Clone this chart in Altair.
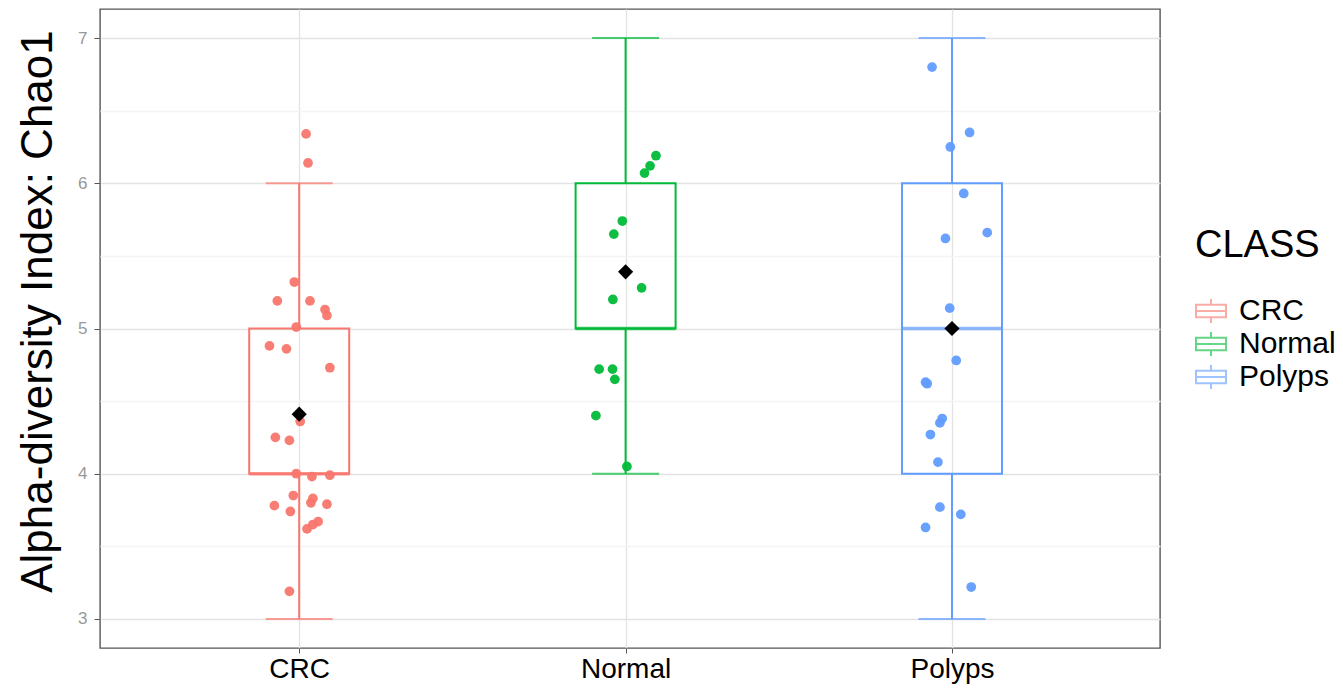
import altair as alt
import pandas as pd

classes = ["CRC", "Normal", "Polyps"]
colors = ["#F8766D", "#00BA38", "#619CFF"]

crc_vals = [6.34, 6.14, 5.32, 5.19, 5.19, 5.13, 5.09, 5.01, 4.88, 4.86, 4.73, 4.36, 4.25, 4.23,
            4.00, 3.99, 3.98, 3.85, 3.83, 3.80, 3.79, 3.78, 3.74, 3.67, 3.65, 3.62, 3.19]
crc_jit = [0.021, 0.027, -0.015, -0.067, 0.033, 0.079, 0.085, -0.009, -0.091, -0.039, 0.094, 0.003, -0.073, -0.030,
           -0.009, 0.094, 0.039, -0.018, 0.042, 0.036, 0.085, -0.076, -0.027, 0.058, 0.042, 0.024, -0.030]

normal_vals = [6.19, 6.12, 6.07, 5.74, 5.65, 5.28, 5.20, 4.72, 4.72, 4.65, 4.40, 4.05]
normal_jit = [0.093, 0.075, 0.058, -0.010, -0.036, 0.049, -0.039, -0.081, -0.040, -0.033, -0.091, 0.004]

polyps_vals = [6.80, 6.35, 6.25, 5.93, 5.66, 5.62, 5.14, 4.78, 4.63, 4.62, 4.38, 4.35, 4.27, 4.08,
               3.77, 3.72, 3.63, 3.22]
polyps_jit = [-0.061, 0.054, -0.005, 0.036, 0.108, -0.020, -0.007, 0.013, -0.081, -0.076, -0.030, -0.037, -0.066, -0.043,
              -0.037, 0.027, -0.081, 0.059]

box_min = [3, 4, 3]
box_q1 = [4, 5, 4]
box_med = [4, 5, 5]
box_q3 = [5, 6, 6]
box_max = [6, 7, 7]
means = [4.41, 5.39, 5.00]

y_ticks = [3, 3.5, 4, 4.5, 5, 5.5, 6, 6.5, 7]

rows = []
for i, (c, vals, jit) in enumerate(zip(classes, [crc_vals, normal_vals, polyps_vals],
                                       [crc_jit, normal_jit, polyps_jit])):
    for v, j in zip(vals, jit):
        rows.append({"CLASS": c, "x": i + 1 + j, "y": v})
pts = pd.DataFrame(rows)

stats = pd.DataFrame({
    "CLASS": classes,
    "x": [1, 2, 3],
    "min": box_min, "q1": box_q1, "med": box_med, "q3": box_q3, "max": box_max,
    "mean": means,
})

FONT = "Liberation Sans"
label_js = "[" + ",".join("'" + c + "'" for c in [""] + classes) + "][datum.value]"

xscale = alt.Scale(domain=[0.405, 3.622], nice=False, zero=False)
yscale = alt.Scale(domain=[2.8, 7.2], nice=False, zero=False)

xaxis = alt.Axis(values=[1, 2, 3], labelExpr=label_js, title=None,
                 grid=True, gridColor="#e3e3e3", gridWidth=1.3,
                 domain=False, ticks=True, tickSize=5, tickColor="#555",
                 labelFont=FONT, labelFontSize=28, labelColor="#000", labelPadding=2)
yaxis = alt.Axis(values=y_ticks, title="Alpha-diversity Index: Chao1",
                 labelExpr="datum.value % 1 === 0 ? '' + datum.value : ''",
                 grid=True,
                 gridColor={"condition": {"test": "datum.value % 1 !== 0", "value": "#f4f4f4"}, "value": "#e3e3e3"},
                 gridWidth=1.3,
                 domain=False, tickSize=6, tickColor="#555",
                 tickOpacity={"condition": {"test": "datum.value % 1 !== 0", "value": 0}, "value": 1},
                 labelFont=FONT, labelFontSize=17, labelColor="#999", labelPadding=7,
                 titleFont=FONT, titleFontSize=44, titleFontWeight="normal", titleColor="#000",
                 titlePadding=17, titleY=302)

legend_path = "M-1,-0.42H1V0.42H-1Z M-1,0H1 M0,-0.8V-0.42 M0,0.42V0.8"

color_nolegend = alt.Color("CLASS:N", scale=alt.Scale(domain=classes, range=colors), legend=None)
color_legend = alt.Color("CLASS:N", scale=alt.Scale(domain=classes, range=colors),
                         legend=alt.Legend(title="CLASS", orient="none", legendX=1095, legendY=218,
                                           symbolType=legend_path, symbolSize=900, symbolStrokeWidth=2,
                                           symbolOpacity=0.6,
                                           labelFont=FONT, labelFontSize=30, labelColor="#000",
                                           titleFont=FONT, titleFontSize=38, titleFontWeight="normal",
                                           titleColor="#000", titlePadding=30, labelOffset=12,
                                           rowPadding=1, padding=0))

X = alt.X("x:Q", scale=xscale, axis=xaxis)
base = alt.Chart(stats)

box = base.mark_bar(filled=False, size=100, strokeWidth=2).encode(
    x=X, y=alt.Y("q1:Q", scale=yscale, axis=yaxis), y2="q3:Q", color=color_legend)
lower = base.mark_rule(strokeWidth=2).encode(
    x=X, y=alt.Y("min:Q", scale=yscale, axis=yaxis), y2="q1:Q", color=color_nolegend)
upper = base.mark_rule(strokeWidth=2).encode(
    x=X, y=alt.Y("q3:Q", scale=yscale, axis=yaxis), y2="max:Q", color=color_nolegend)
cap_lo = base.mark_tick(orient="horizontal", size=67, thickness=2).encode(
    x=X, y=alt.Y("min:Q", scale=yscale, axis=yaxis), color=color_nolegend)
cap_hi = base.mark_tick(orient="horizontal", size=67, thickness=2).encode(
    x=X, y=alt.Y("max:Q", scale=yscale, axis=yaxis), color=color_nolegend)
median = base.mark_tick(orient="horizontal", size=100, thickness=3.5).encode(
    x=X, y=alt.Y("med:Q", scale=yscale, axis=yaxis), color=color_nolegend)
points = alt.Chart(pts).mark_circle(size=95, opacity=0.95).encode(
    x=X, y=alt.Y("y:Q", scale=yscale, axis=yaxis), color=color_nolegend)
mean_pts = base.mark_point(shape="diamond", filled=True, size=230, color="#000", opacity=1).encode(
    x=X, y=alt.Y("mean:Q", scale=yscale, axis=yaxis))

chart = alt.layer(box, lower, upper, cap_lo, cap_hi, median, points, mean_pts).resolve_legend(
    color="independent"
).properties(
    width=1060, height=639,
    autosize=alt.AutoSizeParams(type="none"),
    padding={"left": 92, "top": 1, "right": 175, "bottom": 36},
    background="#ffffff",
).configure_view(stroke="#555", strokeWidth=1.4)

chart.save("out.html", embed_options={"renderer": "svg", "actions": False})
